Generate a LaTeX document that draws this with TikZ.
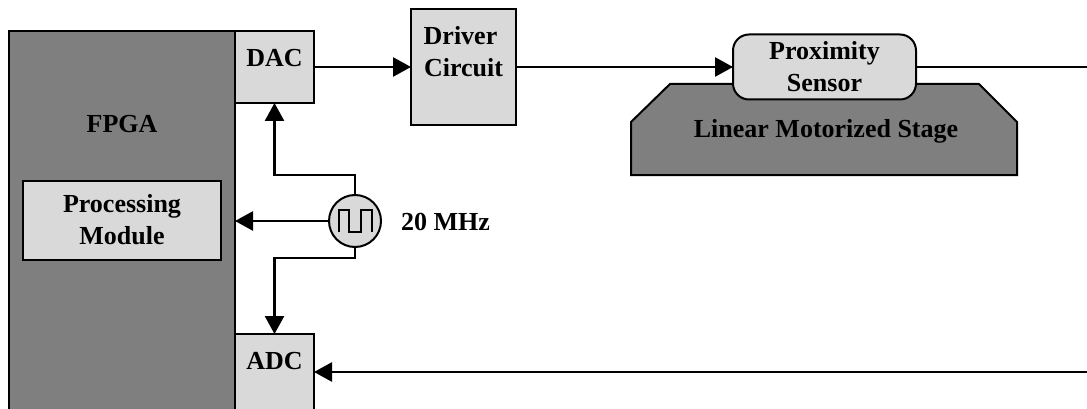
\documentclass[tikz,border=0pt]{standalone}
\usepackage{fontspec}
\setmainfont{Liberation Serif}
\usetikzlibrary{arrows.meta,calc}
\definecolor{lightbox}{HTML}{D9D9D9}
\definecolor{darkbox}{HTML}{7F7F7F}
\newcommand{\lbl}[2]{\raisebox{#1pt}[0pt][0pt]{\begin{tabular}{@{}c@{}}#2\end{tabular}}}
\tikzset{
  txt/.style={font=\fontsize{26}{32}\selectfont\bfseries},
  box/.style={draw=black,line width=2pt,inner sep=0pt,outer sep=0pt,txt},
  lightb/.style={box,fill=lightbox},
  darkb/.style={box,fill=darkbox},
  sz/.style 2 args={minimum width=#1pt,minimum height=#2pt},
  wire/.style={line width=2.7pt,line join=miter},
  arr/.style={wire,-{Triangle[length=18pt,width=19pt]}}
}
\begin{document}
\begin{tikzpicture}[x=1pt,y=-1pt]
\useasboundingbox (0,0) rectangle (1087,409);
% FPGA
\node[darkb,sz={226}{380}] (fpga) at (122,221) {\lbl{89}{FPGA}};
\node[lightb,sz={198}{79}] (proc) at (122,220.5) {\lbl{-8}{Processing\\Module}};
\node[lightb,sz={79}{72}] (dac) at (274.5,67) {\lbl{1}{DAC}};
\node[lightb,sz={79}{76}] (adc) at (274.5,372) {\lbl{3}{ADC}};
% driver
\node[lightb,sz={105}{116}] (drv) at (463.5,67) {\lbl{7}{Driver\kern6pt\\Circuit}};
% stage
\draw[fill=darkbox,draw=black,line width=2pt] (631,122) -- (670,84) -- (979,84) -- (1017,122) -- (1017,175) -- (631,175) -- cycle;
\node[txt,anchor=base] (stage) at (826,138) {Linear Motorized Stage};
% sensor
\node[lightb,rounded corners=16pt,sz={183}{65}] (sens) at (824.5,67) {\lbl{-8}{Proximity\\Sensor}};
% clock
\node[draw=black,fill=lightbox,circle,line width=2pt,minimum size=52pt,inner sep=0pt,outer sep=0pt] (clk) at (355,221) {};
\draw[line width=1.6pt] ($(clk.center)+(-16,11)$) -- ++(0,-22) -- ++(10,0) -- ++(0,22) -- ++(12,0) -- ++(0,-22) -- ++(11,0) -- ++(0,22);
\node[txt,anchor=base west,inner sep=0pt] (freq) at (401,230) {20 MHz};
% free ends
\coordinate (outS) at (1087,67);
\coordinate (inA) at (1087,372);
% connectors
\draw[arr] (dac.east) -- (drv.west);
\draw[arr] (drv.east) -- (sens.west);
\draw[wire] (sens.east) -- (outS);
\draw[arr] (inA) -- (adc.east);
\draw[arr] (clk.north) -- ++(0,-20) -| (dac.south);
\draw[arr] (clk.west) -- (fpga.east);
\draw[arr] (clk.south) -- ++(0,11) -| (adc.north);
\end{tikzpicture}
\end{document}
